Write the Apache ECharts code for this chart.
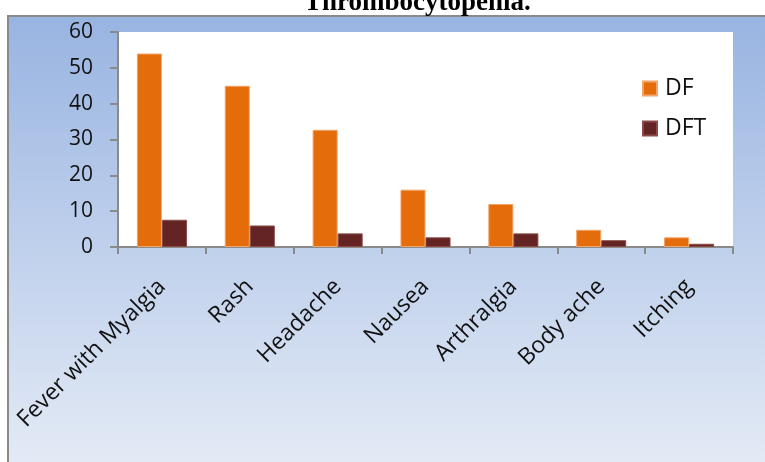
<!DOCTYPE html>
<html><head><meta charset="utf-8">
<script src="https://cdn.jsdelivr.net/npm/echarts@6/dist/echarts.min.js"></script>
<style>html,body{margin:0;padding:0;background:#fff}#c{width:765px;height:462px}</style>
</head><body><div id="c"></div>
<script>
const categories = ['Fever with Myalgia','Rash','Headache','Nausea','Arthralgia','Body ache','Itching'];
const dfValues = [54, 45, 32.7, 16, 12, 4.8, 2.7];
const dftValues = [7.6, 6, 3.8, 2.7, 3.8, 1.9, 0.9];
const yTicks = [0, 10, 20, 30, 40, 50, 60];
const titleText = 'Thrombocytopenia.';

const chart = echarts.init(document.getElementById('c'), null, {renderer:'canvas'});
const font = '"Open Sans", sans-serif';
chart.setOption({
  animation: false,
  backgroundColor: '#fff',
  graphic: [
    {type:'rect', z:-10, silent:true, shape:{x:8, y:16, width:800, height:460},
     style:{fill:new echarts.graphic.LinearGradient(0,0,0,1,[{offset:0,color:'#98B4E1'},{offset:1,color:'#E6ECF6'}]), stroke:'#8a8a8a', lineWidth:2}},
    {type:'text', left:304, top:-10, style:{text:titleText, font:'bold 27px "Liberation Serif", serif', fill:'#000'}},
    {type:'rect', z:-5, silent:true, shape:{x:118, y:32, width:615, height:215}, style:{fill:'#fff'}}
  ],
  legend: {
    orient:'vertical', left:637, top:72, itemGap:17, itemWidth:14, itemHeight:14, icon:'rect',
    textStyle:{fontFamily:font, fontSize:23, color:'#111', padding:[0,0,0,3]},
    data:['DF','DFT']
  },
  grid: {left:118, right:32, top:32, bottom:215, containLabel:false},
  xAxis: {
    type:'category', data:categories,
    axisLine:{lineStyle:{color:'#8a8a8a', width:2}},
    axisTick:{show:true, length:7, lineStyle:{color:'#8a8a8a', width:2}, alignWithLabel:false},
    axisLabel:{rotate:45, margin:36, fontFamily:font, fontSize:23, color:'#111', interval:0}
  },
  yAxis: {
    type:'value', min:yTicks[0], max:yTicks[yTicks.length-1], interval:10,
    axisLine:{show:true, lineStyle:{color:'#8a8a8a', width:2}},
    axisTick:{show:true, inside:false, length:8, lineStyle:{color:'#8a8a8a', width:2}},
    splitLine:{show:false},
    axisLabel:{margin:25, fontFamily:font, fontSize:21, color:'#111'}
  },
  series: [
    {name:'DF', type:'bar', data:dfValues, barGap:'0%', barCategoryGap:'43%',
     itemStyle:{color:'#E46C0A', borderColor:'#F2A46A', borderWidth:1}},
    {name:'DFT', type:'bar', data:dftValues,
     itemStyle:{color:'#632423', borderColor:'#8A4A48', borderWidth:1}}
  ]
});
</script></body></html>
